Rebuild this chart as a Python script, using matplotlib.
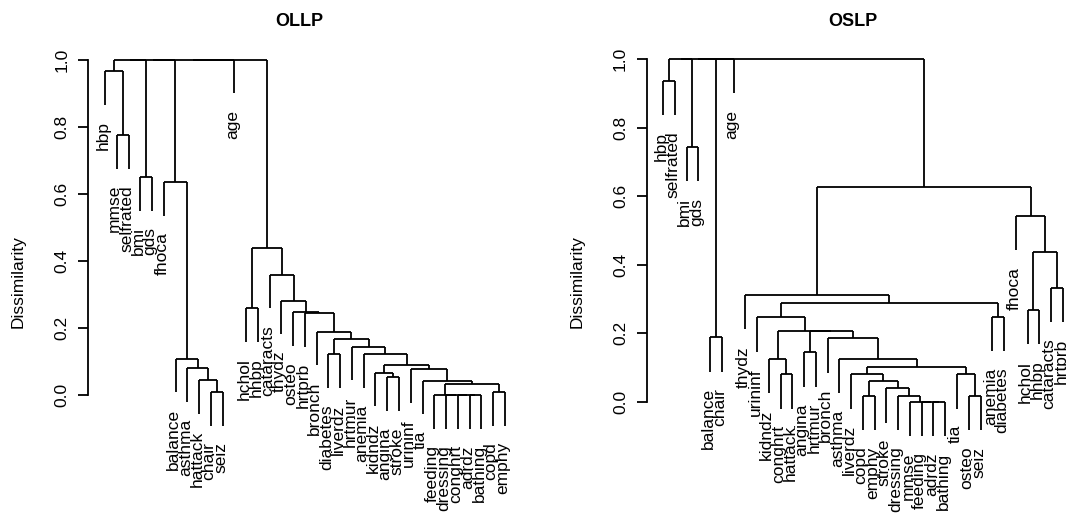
import matplotlib
matplotlib.use("Agg")
import matplotlib.pyplot as plt
import matplotlib.transforms as mtransforms

plt.rcParams['font.family'] = ['Liberation Sans', 'DejaVu Sans']

# leaf order (left to right) and merges: (child, child, height); an int child is an earlier merge
ollp_leaves = ["hbp", "mmse", "selfrated", "bmi", "gds", "fhoca", "balance", "asthma",
               "hattack", "chair", "seiz", "age", "hchol", "hhbp", "cataracts", "thydz",
               "osteo", "hrtprb", "bronch", "diabetes", "liverdz", "hrtmur", "anemia",
               "kidndz", "angina", "stroke", "urininf", "tia", "feeding", "dressing",
               "conghrt", "adrdz", "bathing", "copd", "emphy"]
ollp_merges = [
    ("chair", "seiz", 0.009), ("hattack", 0, 0.044), ("asthma", 1, 0.079),
    ("balance", 2, 0.108), ("fhoca", 3, 0.635), ("mmse", "selfrated", 0.775),
    ("hbp", 5, 0.965), ("bmi", "gds", 0.649),
    ("adrdz", "bathing", 0.0), ("conghrt", 8, 0.0), ("dressing", 9, 0.0),
    ("feeding", 10, 0.0), ("copd", "emphy", 0.009), (11, 12, 0.034),
    ("tia", 13, 0.042), ("urininf", 14, 0.077), ("angina", "stroke", 0.053),
    ("kidndz", 16, 0.066), (17, 15, 0.088), ("anemia", 18, 0.121),
    ("hrtmur", 19, 0.144), ("diabetes", "liverdz", 0.121), (21, 20, 0.168),
    ("bronch", 22, 0.188), ("hrtprb", 23, 0.244), ("osteo", 24, 0.246),
    ("thydz", 25, 0.281), ("cataracts", 26, 0.358), ("hchol", "hhbp", 0.259),
    (28, 27, 0.438),
    (6, 7, 1.0), (30, 4, 1.0), (31, "age", 1.0), (32, 29, 1.0),
]

oslp_leaves = ["hbp", "selfrated", "bmi", "gds", "balance", "chair", "age", "thydz",
               "urininf", "kidndz", "conghrt", "hattack", "angina", "hrtmur", "bronch",
               "asthma", "liverdz", "copd", "emphy", "stroke", "dressing", "mmse",
               "feeding", "adrdz", "bathing", "tia", "osteo", "seiz", "anemia",
               "diabetes", "fhoca", "hchol", "hhbp", "cataracts", "hrtprb"]
oslp_merges = [
    ("hbp", "selfrated", 0.936), ("bmi", "gds", 0.744), ("balance", "chair", 0.188),
    ("adrdz", "bathing", 0.0), ("feeding", 3, 0.0), ("mmse", 4, 0.0),
    ("dressing", 5, 0.017), ("stroke", 6, 0.039), ("copd", "emphy", 0.017),
    (8, 7, 0.060), ("liverdz", 9, 0.080), ("osteo", "seiz", 0.017),
    ("tia", 11, 0.080), (10, 12, 0.100), ("asthma", 13, 0.124),
    ("bronch", 14, 0.185), ("angina", "hrtmur", 0.144), (16, 15, 0.205),
    ("conghrt", "hattack", 0.080), ("kidndz", 18, 0.124), (19, 17, 0.207),
    ("urininf", 20, 0.246), ("anemia", "diabetes", 0.248), (21, 22, 0.289),
    ("thydz", 23, 0.311), ("hchol", "hhbp", 0.268), ("cataracts", "hrtprb", 0.333),
    (25, 26, 0.436), ("fhoca", 27, 0.542), (24, 28, 0.627),
    (0, 1, 1.0), (30, 2, 1.0), (31, "age", 1.0), (32, 29, 1.0),
]

y_ticks = [0.0, 0.2, 0.4, 0.6, 0.8, 1.0]
y_ticklabels = ["0.0", "0.2", "0.4", "0.6", "0.8", "1.0"]
HANG = 0.1

W, H = 1066, 513
SP = 11.76  # px between leaves
fig = plt.figure(figsize=(W / 100, H / 100), dpi=100)


def panel(axis_px, leaf0_px, y0_px, y1_px, leaves, merges, title, title_px):
    x0 = (axis_px - leaf0_px) / SP
    x1 = len(leaves) - 1 + 1.36
    ax = fig.add_axes([axis_px / W, 1 - y0_px / H, (x1 - x0) * SP / W, (y0_px - y1_px) / H])
    ax.set_xlim(x0, x1)
    ax.set_ylim(0, 1)
    for s in ("top", "right", "bottom"):
        ax.spines[s].set_visible(False)
    ax.spines["left"].set_linewidth(1.3)
    ax.set_xticks([])
    ax.set_yticks(y_ticks)
    ax.set_yticklabels(y_ticklabels, rotation=90, va="center", ha="right", fontsize=12.5)
    ax.tick_params(axis="y", length=7.5, width=1.3, pad=6)
    ax.patch.set_visible(False)

    off = ax.transData + mtransforms.ScaledTranslation(-0.02, -0.165, fig.dpi_scale_trans)
    pos = {n: i for i, n in enumerate(leaves)}
    xs, hs = [], []
    kw = dict(color="black", lw=1.3, clip_on=False, solid_capstyle="butt")

    def child(c, h):
        if isinstance(c, str):
            x = pos[c]
            ax.plot([x, x], [h - HANG, h], **kw)
            ax.text(x, h - HANG, c, rotation=90, ha="center", va="top",
                    fontsize=12.5, transform=off, clip_on=False)
        else:
            x = xs[c]
            ax.plot([x, x], [hs[c], h], **kw)
        return x

    for a, b, h in merges:
        xa = child(a, h)
        xb = child(b, h)
        ax.plot([xa, xb], [h, h], **kw)
        xs.append((xa + xb) / 2)
        hs.append(h)

    fig.text((axis_px - 70) / W, 1 - 282 / H, "Dissimilarity", rotation=90,
             ha="center", va="center", fontsize=12.5)
    fig.text(title_px / W, 1 - 21 / H, title, ha="center", va="center",
             fontsize=13, fontweight="bold")
    return ax


panel(88, 105, 395, 59.5, ollp_leaves, ollp_merges, "OLLP", 299)
panel(646.7, 663, 401.7, 59, oslp_leaves, oslp_merges, "OSLP", 853)

fig.savefig("out.png", dpi=100)
